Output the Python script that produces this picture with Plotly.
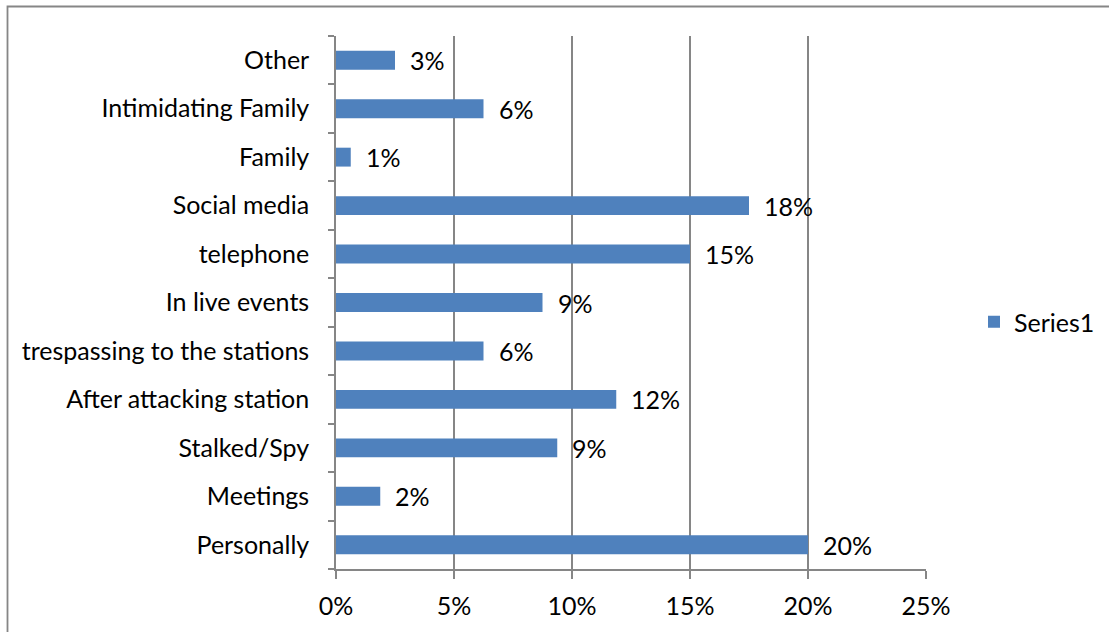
from decimal import Decimal, ROUND_HALF_UP
import plotly.graph_objects as go

# Share of respondents per harassment channel (bottom to top on the chart)
categories = [
    "Personally",
    "Meetings",
    "Stalked/Spy",
    "After attacking station",
    "trespassing to the stations",
    "In live events",
    "telephone",
    "Social media",
    "Family",
    "Intimidating Family",
    "Other",
]
shares = [0.20, 0.01875, 0.09375, 0.11875, 0.0625, 0.0875, 0.15, 0.175, 0.00625, 0.0625, 0.025]
x_ticks = [0, 0.05, 0.10, 0.15, 0.20, 0.25]
x_tick_labels = ["0%", "5%", "10%", "15%", "20%", "25%"]
series_name = "Series1"


def pct_label(v):
    # whole-percent label, halves rounded up
    return str((Decimal(str(v)) * 100).quantize(Decimal("1"), rounding=ROUND_HALF_UP)) + "%"


BAR = "#4F81BD"
GRID = "#868686"
FONT = "Lato, 'Open Sans', sans-serif"
FS = 25

W, H = 1109, 632
ML, MR, MT, MB = 336, 183, 36, 63
PW, PH = W - ML - MR, H - MT - MB

fig = go.Figure()
fig.add_trace(go.Bar(
    x=shares,
    y=categories,
    orientation="h",
    marker=dict(color=BAR, line=dict(width=0)),
    name=series_name,
    showlegend=True,
    hoverinfo="skip",
))

# value labels sitting just past each bar end
annotations = [
    dict(x=v, y=c, xref="x", yref="y", text=pct_label(v), showarrow=False,
         xanchor="left", yanchor="middle", xshift=13,
         font=dict(family=FONT, size=FS, color="#000000"))
    for c, v in zip(categories, shares)
]


def px_to_paper_x(px):
    return (px - ML) / PW


def px_to_paper_y(py):
    return (H - MB - py) / PH


# chart-area frame (top and left edges visible)
frame = dict(type="rect", xref="paper", yref="paper",
             x0=px_to_paper_x(7.5), x1=px_to_paper_x(1125),
             y0=px_to_paper_y(650), y1=px_to_paper_y(6.5),
             line=dict(color=GRID, width=1.8), fillcolor="rgba(0,0,0,0)", layer="below")

fig.update_layout(
    width=W, height=H,
    margin=dict(l=ML, r=MR, t=MT, b=MB, autoexpand=False),
    paper_bgcolor="white",
    plot_bgcolor="white",
    bargap=0.61,
    font=dict(family=FONT, size=FS, color="#000000"),
    annotations=annotations,
    shapes=[frame],
    legend=dict(x=px_to_paper_x(974), y=px_to_paper_y(322), xanchor="left", yanchor="middle",
                font=dict(family=FONT, size=FS), bgcolor="rgba(0,0,0,0)",
                itemwidth=30),
    xaxis=dict(
        range=[0, 0.25],
        tickvals=x_ticks,
        ticktext=x_tick_labels,
        automargin=False,
        showgrid=True, gridcolor=GRID, gridwidth=1.6,
        zeroline=False,
        showline=True, linecolor=GRID, linewidth=1.6,
        ticks="outside", ticklen=8, tickcolor=GRID, tickwidth=1.6,
        ticklabelstandoff=6,
        tickfont=dict(family=FONT, size=FS, color="#000000"),
    ),
    yaxis=dict(
        categoryorder="array", categoryarray=categories,
        automargin=False,
        showgrid=False, zeroline=False,
        showline=True, linecolor=GRID, linewidth=1.6,
        ticks="outside", ticklen=6, tickcolor=GRID, tickwidth=1.6,
        tickson="boundaries",
        ticklabelstandoff=20,
        tickfont=dict(family=FONT, size=FS, color="#000000"),
    ),
)

fig.write_html("out.html")
